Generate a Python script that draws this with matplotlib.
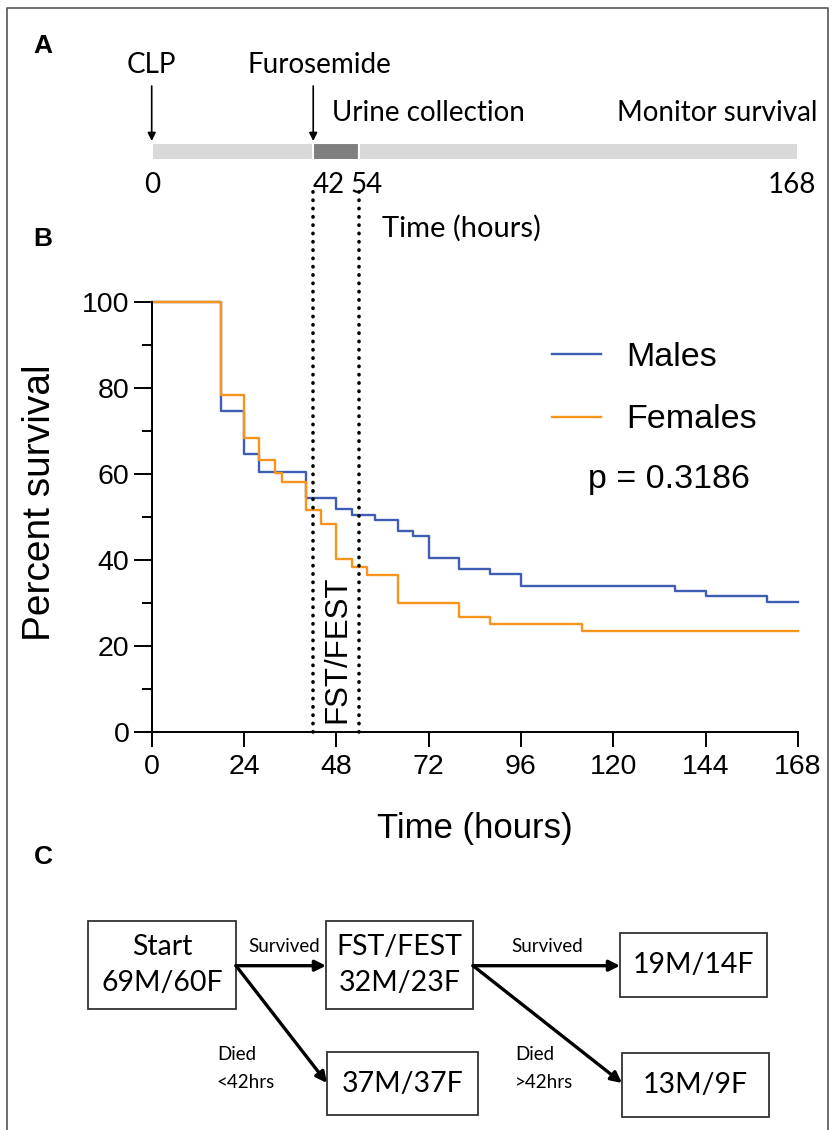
import matplotlib
matplotlib.use('Agg')
import matplotlib.pyplot as plt
from matplotlib.patches import Rectangle
import numpy as np

plt.rcParams['font.family'] = ['Liberation Sans', 'DejaVu Sans']

# survival data (hours, percent)
male_times = [0, 18, 24, 28, 40, 48, 52, 58, 64, 68, 72, 80, 88, 96, 136, 144, 160]
male_surv = [100, 74.5, 64.5, 60.5, 54.3, 51.7, 50.5, 49.2, 46.7, 45.4, 40.3, 37.8, 36.6, 34.0, 32.7, 31.6, 30.2]
female_times = [0, 18, 24, 28, 32, 34, 40, 44, 48, 52, 56, 64, 80, 88, 112]
female_surv = [100, 78.3, 68.4, 63.2, 60.1, 58.1, 51.6, 48.2, 40.1, 38.2, 36.5, 29.9, 26.6, 25.0, 23.4]
end_time = 168
p_value = 0.3186

# timeline (panel A)
phase_edges = [0, 42, 54, 168]
phase_colors = ['#d9d9d9', '#7f7f7f', '#d9d9d9']
timeline_ticks = ['0', '42', '54', '168']
window = [42, 54]

# flow chart (panel C)
start_counts = '69M/60F'
fst_counts = '32M/23F'
died_early = '37M/37F'
survived_end = '19M/14F'
died_late = '13M/9F'

blue = '#3f5db3'
orange = '#f7941d'
calib = 'Lato'

W, H = 834, 1130
fig = plt.figure(figsize=(W / 100, H / 100), dpi=100)

def fx(px):
    return px / W

def fy(py):
    return 1 - py / H

# overlay in pixel coords for border, panel letters and flow chart
ov = fig.add_axes([0, 0, 1, 1])
ov.set_xlim(0, W)
ov.set_ylim(H, 0)
ov.axis('off')
ov.plot([7, 7, 828, 828], [H, 8, 8, H], color='#555555', lw=1.2)
for lab, x, y in [('A', 43, 46), ('B', 43, 239), ('C', 43, 857)]:
    ov.text(x, y, lab, fontsize=19, fontweight='bold', ha='center', va='center')

# ---- panel A ----
x0, x1 = 151.7, 797.8
axA = fig.add_axes([fx(x0), fy(260), (x1 - x0) / W, (260 - 30) / H])
axA.set_xlim(0, 168)
axA.set_ylim(260, 30)
axA.axis('off')
axA.barh(151.3, np.diff(phase_edges), left=phase_edges[:-1], height=17.5,
         color=phase_colors, edgecolor='white', linewidth=1.5)
for t, name in [(0, 'CLP'), (42, 'Furosemide')]:
    axA.annotate('', xy=(t, 141), xytext=(t, 86),
                 arrowprops=dict(arrowstyle='-|>', color='black', lw=1.2,
                                 mutation_scale=12, shrinkA=0, shrinkB=0))
    axA.text(t + (0 if t == 0 else 1.6), 65, name, family=calib, fontsize=20,
             ha='center', va='center', clip_on=False)
axA.text(47, 113, 'Urine collection', family=calib, fontsize=20, ha='left', va='center')
axA.text(168 + 5, 113, 'Monitor survival', family=calib, fontsize=20, ha='right', va='center',
         clip_on=False)
tick_x = [0, 46, 56, 166.5]
for lab, x in zip(timeline_ticks, tick_x):
    axA.text(x, 185, lab, family=calib, fontsize=20, ha='center', va='center', clip_on=False)
axA.text(59.8, 228, 'Time (hours)', family=calib, fontsize=21, ha='left', va='center')

# ---- panel B ----
axB = fig.add_axes([fx(x0), fy(731.7), (x1 - x0) / W, (731.7 - 301.7) / H])
axB.step(np.append(male_times, end_time), np.append(male_surv, male_surv[-1]),
         where='post', color=blue, lw=1.7, label='Males', clip_on=False)
axB.step(np.append(female_times, end_time), np.append(female_surv, female_surv[-1]),
         where='post', color=orange, lw=1.7, label='Females', clip_on=False)
axB.set_xlim(0, 168)
axB.set_ylim(0, 100)
axB.set_xticks(range(0, 169, 24))
axB.set_yticks(range(0, 101, 20))
axB.set_yticks(range(10, 100, 20), minor=True)
for s in ['top', 'right']:
    axB.spines[s].set_visible(False)
for s in ['left', 'bottom']:
    axB.spines[s].set_linewidth(1.4)
axB.tick_params(axis='both', labelsize=20.5, width=1.4)
axB.tick_params(axis='y', which='major', length=13, pad=3)
axB.tick_params(axis='y', which='minor', length=7, width=1.4)
axB.tick_params(axis='x', which='major', length=11, pad=5)

for t in window:
    axB.plot([t, t], [0, 126], color='black', lw=2.6, linestyle=(0, (0.1, 2.2)),
             dash_capstyle='round', clip_on=False)
axB.text(48.3, 19.2, 'FST/FEST', rotation=90, ha='center', va='center', fontsize=22.5)

axB.legend(loc='upper left', bbox_to_anchor=(0.6196, 0.906), frameon=False,
           fontsize=24.5, handlelength=1.43, handletextpad=0.76, labelspacing=0.92,
           borderpad=0, borderaxespad=0)
axB.text(113.5, 56.6, f'p = {p_value}', fontsize=24.5, ha='left', va='baseline')
axB.text(-0.173, 0.533, 'Percent survival', rotation=90, fontsize=28,
         ha='center', va='center', transform=axB.transAxes)
axB.text(0.5, -0.224, 'Time (hours)', fontsize=25, ha='center', va='center',
         transform=axB.transAxes)

# ---- panel C ----
def box(xa, ya, xb, yb, lines, ys):
    ov.add_patch(Rectangle((xa, ya), xb - xa, yb - ya, fill=False, ec='#333333', lw=1.3))
    for txt, yy in zip(lines, ys):
        ov.text((xa + xb) / 2, yy, txt, family=calib, fontsize=20.5, ha='center', va='center')

def arrow(xa, ya, xb, yb):
    ov.annotate('', xy=(xb, yb), xytext=(xa, ya),
                arrowprops=dict(arrowstyle='-|>', color='black', lw=2.4,
                                mutation_scale=16, shrinkA=0, shrinkB=0))

box(88, 921, 236, 1009, ['Start', start_counts], [947, 983])
box(326, 921, 473, 1009, ['FST/FEST', fst_counts], [947, 983])
box(620, 933, 767, 997, [survived_end], [965])
box(327, 1052, 478, 1115, [died_early], [1084])
box(622, 1053, 769, 1117, [died_late], [1085])

arrow(236, 965.7, 326, 965.7)
arrow(236, 965.7, 327, 1083)
arrow(473, 965.7, 620, 965.7)
arrow(473, 965.7, 622, 1083)

ov.text(284, 947, 'Survived', family=calib, fontsize=13.5, ha='center', va='center')
ov.text(547, 947, 'Survived', family=calib, fontsize=13.5, ha='center', va='center')
ov.text(217, 1055, 'Died', family=calib, fontsize=13.5, ha='left', va='center')
ov.text(217, 1082, '<42hrs', family=calib, fontsize=13.5, ha='left', va='center')
ov.text(515, 1055, 'Died', family=calib, fontsize=13.5, ha='left', va='center')
ov.text(515, 1082, '>42hrs', family=calib, fontsize=13.5, ha='left', va='center')

fig.savefig('out.png', dpi=100)
